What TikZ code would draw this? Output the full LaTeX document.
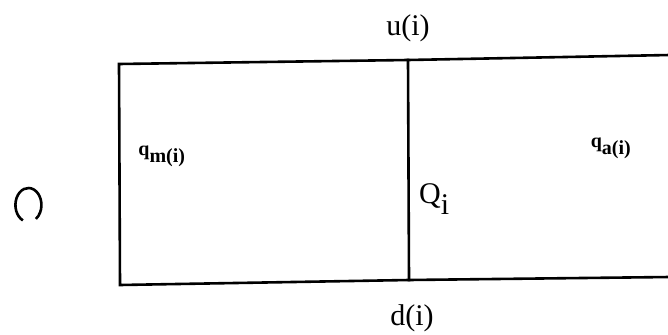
\documentclass[tikz,border=0pt]{standalone}
\usepackage{fontspec}
\setmainfont{Liberation Serif}
\begin{document}
\begin{tikzpicture}[x=1pt,y=-1pt,
  edge/.style={line width=2.6pt, line cap=rect},
  big/.style={font=\fontsize{30}{34}\selectfont, inner sep=0pt},
  small/.style={font=\bfseries\fontsize{20}{24}\selectfont, inner sep=0pt}]
\useasboundingbox (0,0) rectangle (668,334);
% corners
\coordinate (tl) at (119,64);
\coordinate (tm) at (408,60);
\coordinate (tr) at (670,55);
\coordinate (bl) at (120,285);
\coordinate (bm) at (409,280);
\coordinate (br) at (670,277);
\draw[edge] (tr) -- (tm) -- (tl) -- (bl) -- (bm) -- (br);
\draw[edge] (tm) -- (bm);
% labels
\node[big] (u) at (408,28) {u(i)};
\node[big] (d) at (412,318) {d(i)};
\node[big,anchor=west] (Q) at (419,199) {Q$_{\textrm{i}}$};
\node[small] (qm) at (162,156) {q$_{\textrm{\bfseries m(i)}}$};
\node[small] (qa) at (611,148) {q$_{\textrm{\bfseries a(i)}}$};
% broken circle
\coordinate (oc) at (28,205);
\draw[line width=2.6pt] (oc) ++(115:12 and 17) arc[start angle=115, end angle=415, x radius=13, y radius=17];
\end{tikzpicture}
\end{document}
